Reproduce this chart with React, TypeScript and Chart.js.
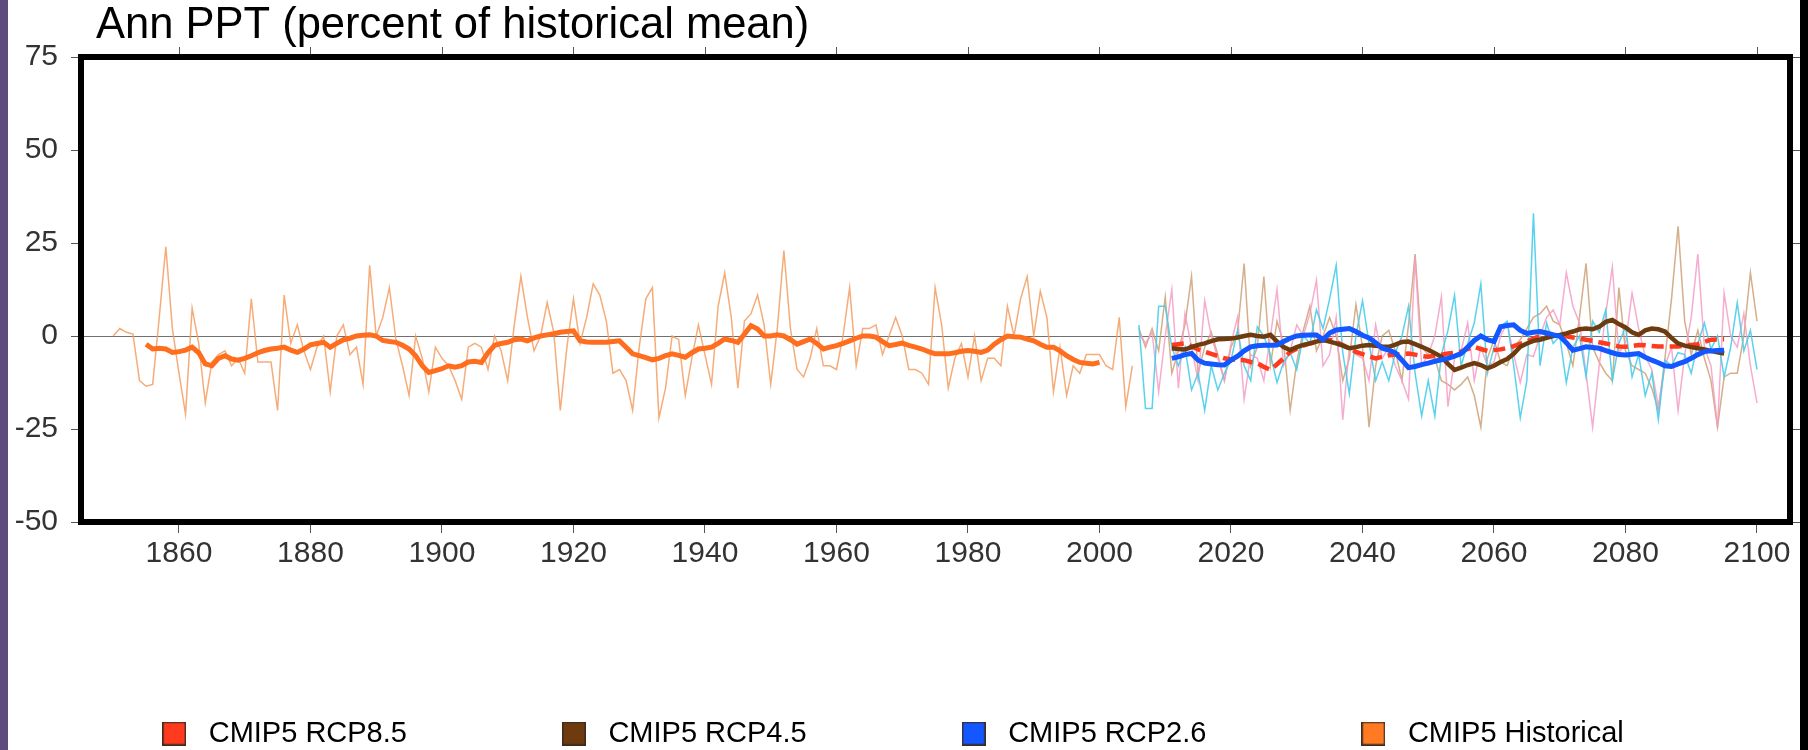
import React, { useEffect, useRef } from 'react';
import { Chart, registerables } from 'chart.js';

Chart.register(...registerables);

const FONT = '"Liberation Sans", Arial, Helvetica, sans-serif';
const TITLE = 'Ann PPT (percent of historical mean)';

// ---- axis ticks ----
const xTickYears = [1860, 1880, 1900, 1920, 1940, 1960, 1980, 2000, 2020, 2040, 2060, 2080, 2100];
const yTickValues = [-50, -25, 0, 25, 50, 75];

// ---- first years of each series ----
const HIST_START = 1850;
const HIST_MEAN_START = 1855;
const PROJ_START = 2006;
const PROJ_MEAN_START = 2011;

// ---- historical annual values (1850-2005) ----
const histAnnual = [
  0, 2, 1, 0.5, -12, -13.5, -13, 5, 24, 2,
  -10, -21, 7.5, -2, -18, -7, -5, -4, -8, -6,
  -10, 10, -7, -7, -7, -20, 11, -2, 3, -4,
  -9, -3, 0, -15, 0, 3, -5, -3, -13, 19,
  0, 5, 13, -1, -8, -16, 0, -6, -15, -3,
  -6, -8, -12, -17, -3, -2, -3, -9, 0, -4,
  -12, 3, 16, 5, -4, 0, 9, 1, -20, -3,
  10, -2, 5, 14, 11, 4, -10, -9, -12, -20,
  -3, 10, 13, -22, -14, 0, -1, -16, -6, 3,
  -5, -13, 8, 17, 5, -14, 4, 6, 11, 3,
  -13, 2, 23, 2, -9, -11, -6, 2, -8, -8,
  -9, 0, 13, -8, 2, 2, 3, -5, 0, 5,
  0, -9, -9, -10, -13, 13, 3, -14, -6, -2,
  -11, 0, -12, -6, -6, -8, 8, 0, 10, 16,
  0, 12, 5, -15, -3, -16, -8, -10, -5, -5,
  -5, -8, -9, 5, -19, -8,
];

// ---- historical smoothed mean (1855-2000) ----
const histMean = [
  -2.2, -3.5, -3.3, -3.5, -4.4, -4.2, -3.8, -3, -4.5, -7.5,
  -8, -6, -5.3, -6.2, -6.5, -6, -5.3, -4.5, -3.9, -3.5,
  -3.3, -3, -3.8, -4.4, -3.5, -2.4, -2, -1.7, -3, -2,
  -1, -0.6, 0, 0.2, 0.3, 0, -1.2, -1.5, -1.7, -2.5,
  -3.5, -5.3, -8, -9.8, -9.3, -8.8, -8, -8.4, -8, -7,
  -6.8, -7.1, -4.5, -2.5, -2, -1.7, -1, -0.8, -1.3, -0.5,
  0, 0.3, 0.6, 1, 1.2, 1.4, -1.3, -1.6, -1.7, -1.7,
  -1.7, -1.5, -1.3, -3, -4.8, -5.3, -5.8, -6.4, -6, -5.3,
  -4.8, -5.2, -5.7, -4.5, -3.5, -3.3, -3, -2, -0.8, -1.2,
  -1.7, 0.5, 2.8, 1.9, 0, 0, 0.3, 0, -1, -2.2,
  -1.5, -0.8, -2, -3.5, -3, -2.6, -2, -1.3, -0.6, 0,
  0, -0.3, -1.5, -2.6, -2.3, -1.9, -2.5, -3, -3.5, -4.2,
  -4.8, -4.8, -4.8, -4.5, -4.1, -3.9, -4.1, -4.4, -3.8, -2.2,
  -1, 0, -0.2, -0.3, -0.8, -1.3, -2.2, -3, -3, -4,
  -5.3, -6.3, -7.1, -7.3, -7.5, -7.1,
];

// ---- projection annual values (2006-2100) ----
const rcp26Annual = [
  3, -19.5, -19.5, 8, 8, -3, -8, -3, -14.5, -10,
  -20, -8, -14.5, -10, -6.5, 1.5, -8, -12, 2.5, 0,
  -5, -12.5, -7, -4.5, -9, 0, -2, 7, 2, 10,
  19, -4.5, -15.5, 0, 9.5, -2, -12, -7, -12, -4.5,
  0, 8, -10, -21.5, -12, -21.5, -5, 1.5, 11, -8,
  -2, 3.5, 14, -10, -3, 2.5, 4, -8, -22, -12,
  33, -8, 3.5, -2, 0, -12.5, -3, 0, -11, 4,
  1, 7, -12, -2, 2.5, -11, -5, -16, -10, -22.5,
  -6.5, -8, -4.5, -5, -10, -2, 3.5, -3.5, 0, -11,
  -3, 9, -4, 1.5, -9,
];
const rcp85Annual = [
  1, -2, 1, -15, 0, 12.5, -14, 6, -3, -12,
  9.5, 0, -6, -12, -2, 5, -17, -5, -6, -12,
  0, 12.5, -8, -4, 3, 0, 6, 15, -8, -5,
  5, -22.5, -3, -5, -6, -12, 3, -6, -3, -8,
  -12, -17, 21, -8, -5, 0, 10.5, -19, -6, -4,
  3.5, -12, -3, -8, -7, 0, 3.5, -5, -12.5, -5,
  -5.5, 0, 5, 7, 3, 17, 8, 3.5, -10, -24.5,
  -8, 6, 18.5, -4.5, -2, 11.5, 2, -5.5, -9, -19,
  -8, -3, -20, -5, 5, 22, -3, -8, -24.5, 11.5,
  0, -3, 6, -8, -18,
];
const rcp45Annual = [
  2, -3, 2, -4, 10.5, -10, -4, 3, 16, -10,
  -3, 1, -5, -12, -3, 1, 19.5, -8, -3, 16,
  -8, 4, -2, -20, -7, 1.5, 8, -4, 0, 5,
  0, -12, -6, 8.5, -3, -24.5, -8, 0, 1.5, -4,
  -12, 3, 22, -3, -5, -6, -12, -13, -14.5, -13,
  -11, -16, -24.5, -6, -1, -7, -8, -3, -1, 2,
  5, 6, 8, 4, 3, -2, -8, 5, 19.5, -3,
  -7, -10, -12, 13, -4, -8, -9, -10, -14, -20,
  -6, 10, 29.5, 4, -5, 1.5, -6, -12, -24.5, -11,
  -10, -10, 0, 17, 4,
];

// ---- projection smoothed means (2011-2095) ----
const rcp85Mean = [
  -2.4, -2.2, -2, -2.8, -3.6, -4.2, -4.8, -5.4, -6, -6.3,
  -6.4, -6.5, -7, -7.3, -8.3, -9.1, -7.6, -6, -4.3, -3.4,
  -2.6, -2, -1.6, -1.2, -1, -1.6, -2.4, -3.3, -4.3, -4.9,
  -5.5, -6, -5.6, -5.2, -5, -4.8, -4.7, -5, -5.4, -5.6,
  -5.3, -5, -4.7, -4.5, -4.2, -3.5, -2.9, -3.5, -4, -3.8,
  -3.6, -3.2, -2.7, -2.1, -1.5, -0.7, 0, 0.2, 0.3, 0.1,
  -0.1, -0.4, -0.7, -1, -1.3, -1.7, -2, -2.4, -2.8, -2.9,
  -2.7, -2.4, -2.5, -2.7, -2.8, -2.8, -2.8, -2.8, -2.6, -2.4,
  -2.2, -1.6, -1, -0.9, -0.9,
];
const rcp45Mean = [
  -3.3, -3.5, -3.6, -3, -2.4, -2, -1.4, -0.9, -0.8, -0.7,
  -0.4, 0, 0.3, 0, -0.2, 0.3, -1.5, -3, -3.8, -3,
  -2.4, -2, -1.5, -1, -1.5, -2, -2.6, -3.3, -3, -2.6,
  -2.4, -2.6, -2.8, -2.9, -2.3, -1.6, -1.5, -2.2, -2.9, -3.7,
  -4.6, -5.6, -7.5, -9.1, -8.5, -7.8, -7.3, -7.8, -8.7, -8,
  -7, -6.2, -4.8, -2.9, -2, -1.3, -1, -0.5, 0, 0.3,
  0.7, 1.2, 1.8, 2, 1.8, 2.5, 3.8, 4.3, 3.2, 2.3,
  1, 0.3, 1.5, 2, 1.8, 1.2, -0.5, -2, -2.6, -3,
  -3.3, -3.6, -4, -4.4, -4.7,
];
const rcp26Mean = [
  -6, -5.6, -5, -4.7, -6.5, -7.3, -7.5, -7.7, -7.8, -6.5,
  -5.4, -4, -2.9, -2.6, -2.5, -2.5, -2.4, -1.5, -0.6, 0,
  0.2, 0.3, 0.3, -1, 0.8, 1.6, 1.8, 2, 1.2, 0.2,
  -0.5, -1.8, -3.3, -3.8, -4.5, -6.5, -8.5, -8.2, -7.7, -7.3,
  -6.8, -6.4, -6, -5.4, -4.7, -3, -1.2, 0, -1, -1.5,
  2.5, 2.8, 3, 1.5, 0.7, 1, 1.2, 0.8, 0.3, 0,
  -1.8, -3.8, -3.4, -2.9, -3.1, -3.3, -3.9, -4.5, -5, -5.1,
  -4.9, -4.7, -5.7, -6.5, -7.2, -8, -8.2, -7.5, -6.9, -6,
  -5, -4.2, -4, -3.9, -3.8,
];

const legendLabels = ['CMIP5 RCP8.5', 'CMIP5 RCP4.5', 'CMIP5 RCP2.6', 'CMIP5 Historical'];
const legendColors = ['#ff3a1f', '#6e3b0e', '#1257ff', '#ff7a22'];

const toPoints = (start: number, values: number[]) =>
  values.map((v, i) => ({ x: start + i, y: v }));

const makeSwatch = (color: string) => {
  const c = document.createElement('canvas');
  c.width = 24;
  c.height = 24;
  const g = c.getContext('2d');
  if (g) {
    g.fillStyle = color;
    g.fillRect(0, 0, 24, 24);
    g.strokeStyle = '#3a2a20';
    g.lineWidth = 1.5;
    g.strokeRect(0.75, 0.75, 22.5, 22.5);
  }
  return c;
};

const framePlugin = {
  id: 'frameAndTitle',
  afterDraw(chart: any) {
    const { ctx, chartArea } = chart;
    const { left, right, top, bottom } = chartArea;
    const xs = chart.scales.x;
    const ys = chart.scales.y;
    ctx.save();
    // outward ticks on top and right sides
    ctx.strokeStyle = '#555';
    ctx.lineWidth = 1;
    ctx.beginPath();
    xs.ticks.forEach((t: any) => {
      const px = Math.round(xs.getPixelForValue(t.value)) + 0.5;
      ctx.moveTo(px, top);
      ctx.lineTo(px, top - 10);
    });
    ys.ticks.forEach((t: any) => {
      const py = Math.round(ys.getPixelForValue(t.value)) + 0.5;
      ctx.moveTo(right, py);
      ctx.lineTo(right + 10, py);
    });
    ctx.stroke();
    // thick frame
    ctx.strokeStyle = '#000';
    ctx.lineWidth = 6;
    ctx.strokeRect(left, top, right - left, bottom - top);
    // title
    ctx.fillStyle = '#000';
    ctx.font = `43.5px ${FONT}`;
    ctx.textAlign = 'left';
    ctx.textBaseline = 'alphabetic';
    ctx.fillText(TITLE, 96, 38);
    ctx.restore();
  },
};

export default function App() {
  const canvasRef = useRef<HTMLCanvasElement | null>(null);

  useEffect(() => {
    const canvas = canvasRef.current;
    if (!canvas) return;
    const swatches = legendColors.map(makeSwatch);
    const thick = { pointRadius: 0, tension: 0, fill: false };
    const thin = { pointRadius: 0, tension: 0, fill: false, borderWidth: 1.5 };
    const chart = new Chart(canvas, {
      type: 'line',
      data: {
        datasets: [
          { ...thick, label: legendLabels[0], data: toPoints(PROJ_MEAN_START, rcp85Mean), borderColor: legendColors[0], backgroundColor: legendColors[0], borderWidth: 4.5, borderDash: [12, 6], order: 3 },
          { ...thick, label: legendLabels[1], data: toPoints(PROJ_MEAN_START, rcp45Mean), borderColor: legendColors[1], backgroundColor: legendColors[1], borderWidth: 4.5, order: 2 },
          { ...thick, label: legendLabels[2], data: toPoints(PROJ_MEAN_START, rcp26Mean), borderColor: legendColors[2], backgroundColor: legendColors[2], borderWidth: 5, order: 1 },
          { ...thick, label: legendLabels[3], data: toPoints(HIST_MEAN_START, histMean), borderColor: '#ff6d1f', backgroundColor: legendColors[3], borderWidth: 5, order: 4 },
          { ...thin, label: 'Historical annual', data: toPoints(HIST_START, histAnnual), borderColor: 'rgba(244,158,96,0.85)', order: 13 },
          { ...thin, label: 'RCP8.5 annual', data: toPoints(PROJ_START, rcp85Annual), borderColor: 'rgba(244,158,198,0.85)', order: 11 },
          { ...thin, label: 'RCP4.5 annual', data: toPoints(PROJ_START, rcp45Annual), borderColor: 'rgba(206,160,118,0.85)', order: 12 },
          { ...thin, label: 'RCP2.6 annual', data: toPoints(PROJ_START, rcp26Annual), borderColor: 'rgba(70,205,235,0.9)', order: 10 },
        ],
      },
      options: {
        animation: false,
        responsive: false,
        devicePixelRatio: 1,
        events: [],
        layout: { padding: { top: 57, left: -12, right: 18, bottom: -8 } },
        scales: {
          x: {
            type: 'linear',
            min: 1845.1,
            max: 2105.02,
            afterBuildTicks: (s: any) => { s.ticks = xTickYears.map((v) => ({ value: v })); },
            afterFit: (s: any) => { s.height = 50; },
            ticks: {
              autoSkip: false,
              maxRotation: 0,
              mirror: true,
              padding: -50,
              color: '#333',
              font: { family: FONT, size: 30 },
              callback: (v: any) => String(v),
            },
            grid: { color: 'rgba(0,0,0,0)', tickColor: '#555', tickLength: 11, drawTicks: true },
            border: { display: false },
          },
          y: {
            type: 'linear',
            min: -50,
            max: 75,
            afterBuildTicks: (s: any) => { s.ticks = yTickValues.map((v) => ({ value: v })); },
            afterFit: (s: any) => { s.width = 93; },
            ticks: {
              padding: 13,
              color: '#333',
              font: { family: FONT, size: 30 },
              callback: (v: any) => String(v),
            },
            grid: {
              color: (c: any) => (c.tick && c.tick.value === 0 ? '#707070' : 'rgba(0,0,0,0)'),
              lineWidth: 1,
              tickColor: '#555',
              tickLength: 10,
              drawTicks: true,
            },
            border: { display: false },
          },
        },
        plugins: {
          title: { display: false },
          tooltip: { enabled: false },
          legend: {
            display: true,
            position: 'bottom',
            labels: {
              usePointStyle: true,
              pointStyleWidth: 40,
              boxWidth: 40,
              boxHeight: 24,
              padding: 147,
              color: '#000',
              font: { family: FONT, size: 29 },
              generateLabels: () =>
                legendLabels.map((text, i) => ({
                  text,
                  fillStyle: legendColors[i],
                  strokeStyle: '#3a2a20',
                  lineWidth: 1,
                  lineDash: [],
                  hidden: false,
                  datasetIndex: i,
                  pointStyle: swatches[i],
                  fontColor: '#000',
                })),
            },
          },
        },
      },
      plugins: [framePlugin],
    } as any);
    return () => chart.destroy();
  }, []);

  return (
    <div style={{ position: 'fixed', left: 0, top: 0, width: 1808, height: 750, background: '#ffffff', overflow: 'hidden' }}>
      <canvas ref={canvasRef} width={1808} height={750} style={{ position: 'absolute', left: 0, top: 0, width: 1808, height: 750 }} />
      <div style={{ position: 'absolute', left: 0, top: 0, width: 8, height: 750, background: '#5e4b7e' }} />
      <div style={{ position: 'absolute', left: 1800, top: 0, width: 8, height: 750, background: '#000' }} />
    </div>
  );
}
